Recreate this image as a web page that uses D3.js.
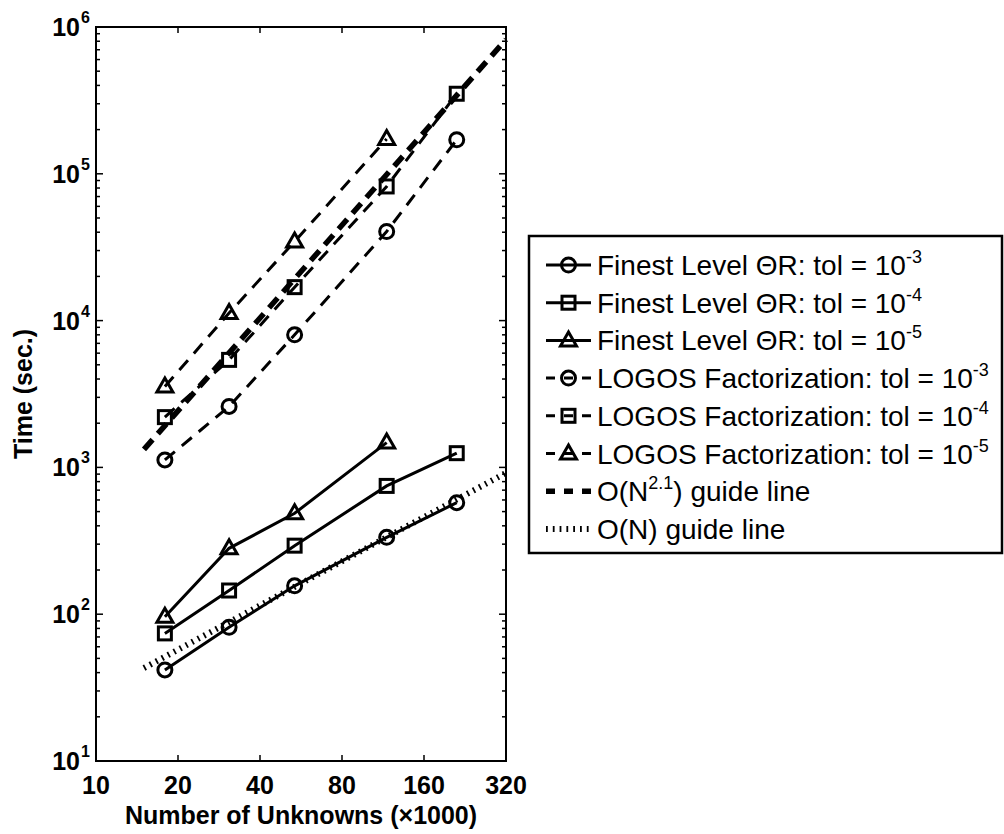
<!DOCTYPE html>
<html><head><meta charset="utf-8">
<script src="https://cdn.jsdelivr.net/npm/d3@7"></script>
<style>body{margin:0;background:#fff}svg{display:block}text{font-family:"Liberation Sans",Arial,sans-serif;fill:#000}</style>
</head><body>
<svg id="c" width="1004" height="834"></svg>
<script>
// ---- data ----
const unknowns = [17.9, 30.8, 53.6, 116.7, 211];
const finest3 = [41.7, 81.5, 156, 334, 575];
const finest4 = [74, 145, 293, 748, 1250];
const finest5 = [96, 281, 487, 1476];
const logos3 = [1125, 2600, 8000, 40450, 170600];
const logos4 = [2200, 5400, 16900, 82000, 351000];
const logos5 = [3556, 11250, 34570, 172400];
const guideX = [15, 320];
const guideN21 = [1327, 822000];
const guideN1 = [43, 917];
const xTicks = [10, 20, 40, 80, 160, 320];
const yExps = [1, 2, 3, 4, 5, 6];
const legendLabels = [
  ["Finest Level \u0398R: tol = 10", "-3"],
  ["Finest Level \u0398R: tol = 10", "-4"],
  ["Finest Level \u0398R: tol = 10", "-5"],
  ["LOGOS Factorization: tol = 10", "-3"],
  ["LOGOS Factorization: tol = 10", "-4"],
  ["LOGOS Factorization: tol = 10", "-5"],
  ["O(N", "2.1", ") guide line"],
  ["O(N) guide line"]
];

const svg = d3.select("#c");
const L = 96, R = 506, T = 27, B = 761;
const x = d3.scaleLog().base(2).domain([10, 320]).range([L, R]);
const y = d3.scaleLog().domain([10, 1e6]).range([B, T]);

// frame
svg.append("rect").attr("x", L).attr("y", T).attr("width", R - L).attr("height", B - T)
  .attr("fill", "none").attr("stroke", "#000").attr("stroke-width", 2);

// ticks
const minor = [];
for (let e = 1; e < 6; e++) for (let m = 2; m <= 9; m++) minor.push(m * Math.pow(10, e));
const g = svg.append("g").attr("stroke", "#000").attr("stroke-width", 1.5);
yExps.forEach(e => {
  const v = Math.pow(10, e);
  g.append("line").attr("x1", L).attr("x2", L + 7).attr("y1", y(v)).attr("y2", y(v));
  g.append("line").attr("x1", R).attr("x2", R - 7).attr("y1", y(v)).attr("y2", y(v));
});
minor.forEach(v => {
  g.append("line").attr("x1", L).attr("x2", L + 4).attr("y1", y(v)).attr("y2", y(v));
  g.append("line").attr("x1", R).attr("x2", R - 4).attr("y1", y(v)).attr("y2", y(v));
});
xTicks.forEach(v => {
  g.append("line").attr("x1", x(v)).attr("x2", x(v)).attr("y1", B).attr("y2", B - 6);
  g.append("line").attr("x1", x(v)).attr("x2", x(v)).attr("y1", T).attr("y2", T + 6);
});

// tick labels
xTicks.forEach(v => {
  svg.append("text").attr("x", x(v)).attr("y", 794).attr("text-anchor", "middle")
    .attr("font-size", 25).attr("font-weight", "bold").text(v);
});
yExps.forEach(e => {
  svg.append("text").attr("x", 80).attr("y", y(Math.pow(10, e)) + 9)
    .attr("text-anchor", "end").attr("font-size", 25).attr("font-weight", "bold").text("10");
  svg.append("text").attr("x", 81).attr("y", y(Math.pow(10, e)) - 4)
    .attr("font-size", 16).attr("font-weight", "bold").text(e);
});
svg.append("text").attr("x", (L + R) / 2).attr("y", 824).attr("text-anchor", "middle")
  .attr("font-size", 25).attr("font-weight", "bold").text("Number of Unknowns (\u00d71000)");
svg.append("text").attr("transform", `translate(32,${(T + B) / 2}) rotate(-90)`).attr("text-anchor", "middle")
  .attr("font-size", 25).attr("font-weight", "bold").text("Time (sec.)");

// series
const line = d3.line().x(d => x(d[0])).y(d => y(d[1]));
const pts = vals => vals.map((v, i) => [unknowns[i], v]);
const plot = svg.append("g");

// guide lines
plot.append("path").attr("d", line(guideX.map((v, i) => [v, guideN21[i]])))
  .attr("fill", "none").attr("stroke", "#000").attr("stroke-width", 5.5).attr("stroke-dasharray", "13,8");
plot.append("path").attr("d", line(guideX.map((v, i) => [v, guideN1[i]])))
  .attr("fill", "none").attr("stroke", "#000").attr("stroke-width", 6).attr("stroke-dasharray", "1.8,5");

function marker(sel, type, cx, cy) {
  if (type === "circle") sel.append("circle").attr("cx", cx).attr("cy", cy).attr("r", 7);
  else if (type === "square") sel.append("rect").attr("x", cx - 6.5).attr("y", cy - 6.5).attr("width", 13).attr("height", 13);
  else sel.append("path").attr("d", `M${cx},${cy - 8.5}L${cx + 8},${cy + 5.5}L${cx - 8},${cy + 5.5}Z`);
}
const series = [
  {v: finest3, m: "circle", dash: null},
  {v: finest4, m: "square", dash: null},
  {v: finest5, m: "triangle", dash: null},
  {v: logos3, m: "circle", dash: "13,9"},
  {v: logos4, m: "square", dash: "13,9"},
  {v: logos5, m: "triangle", dash: "13,9"}
];
series.forEach(s => {
  const p = plot.append("path").attr("d", line(pts(s.v))).attr("fill", "none")
    .attr("stroke", "#000").attr("stroke-width", 3);
  if (s.dash) p.attr("stroke-dasharray", s.dash);
  const mg = plot.append("g").attr("fill", "none").attr("stroke", "#000").attr("stroke-width", 3);
  pts(s.v).forEach(d => marker(mg, s.m, x(d[0]), y(d[1])));
});

// legend
const lg = svg.append("g");
lg.append("rect").attr("x", 529).attr("y", 236).attr("width", 473).attr("height", 317)
  .attr("fill", "#fff").attr("stroke", "#000").attr("stroke-width", 2.5);
const rowY = i => 265 + i * 37.7;
legendLabels.forEach((lab, i) => {
  const yy = rowY(i);
  const s = series[i];
  if (i < 6) {
    const ln = lg.append("line").attr("x1", 546).attr("x2", 591).attr("y1", yy).attr("y2", yy)
      .attr("stroke", "#000").attr("stroke-width", 3);
    if (s.dash) ln.attr("stroke-dasharray", "9,9");
    const mg = lg.append("g").attr("fill", "none").attr("stroke", "#000").attr("stroke-width", 3);
    marker(mg, s.m, 568.5, yy);
  } else if (i === 6) {
    lg.append("line").attr("x1", 546).attr("x2", 591).attr("y1", yy).attr("y2", yy)
      .attr("stroke", "#000").attr("stroke-width", 5.5).attr("stroke-dasharray", "9,9");
  } else {
    lg.append("line").attr("x1", 546).attr("x2", 591).attr("y1", yy).attr("y2", yy)
      .attr("stroke", "#000").attr("stroke-width", 6).attr("stroke-dasharray", "1.8,5");
  }
  const t = lg.append("text").attr("x", 597).attr("y", yy + 10).attr("font-size", 28);
  t.append("tspan").text(lab[0]);
  if (lab[1]) t.append("tspan").attr("dy", -12).attr("font-size", 18).text(lab[1]);
  if (lab[2]) t.append("tspan").attr("dy", 12).text(lab[2]);
});
</script>
</body></html>
